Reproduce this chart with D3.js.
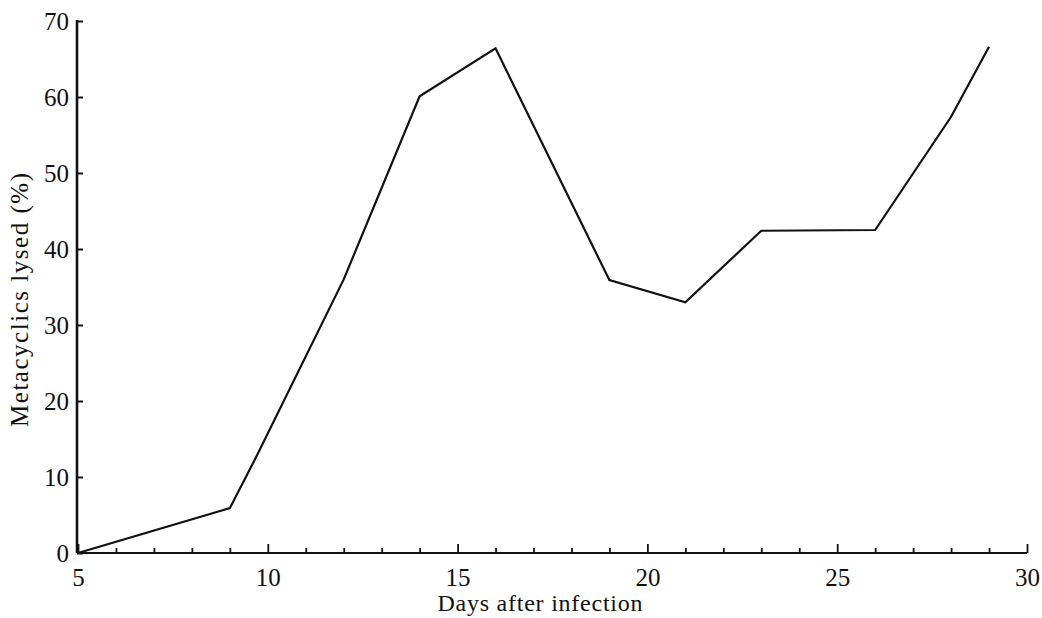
<!DOCTYPE html>
<html>
<head>
<meta charset="utf-8">
<script src="https://cdn.jsdelivr.net/npm/d3@7"></script>
<style>
  html, body { margin: 0; padding: 0; background: #fff; }
  svg { display: block; }
  text { font-family: "Liberation Serif", "Times New Roman", serif; fill: #111; }
</style>
</head>
<body>
<svg id="chart" width="1042" height="618"></svg>
<script>
// Data
const days = [5, 9, 9.7, 12, 14, 16, 19, 21, 23, 26, 28, 29];
const lysed = [0, 5.9, 12.7, 36, 60.1, 66.4, 35.9, 33, 42.4, 42.5, 57.4, 66.6];
const xTicks = [5, 10, 15, 20, 25, 30];
const xMinorTicks = d3.range(5, 31, 1);
const yTicks = [0, 10, 20, 30, 40, 50, 60, 70];
const xTitle = "Days after infection";
const yTitle = "Metacyclics lysed (%)";

const svg = d3.select("#chart");
const x = d3.scaleLinear().domain([5, 30]).range([78, 1027]);
const y = d3.scaleLinear().domain([0, 70]).range([553, 21]);

// X axis: minor ticks (inward, upward)
const xAxisMinor = d3.axisBottom(x).tickValues(xMinorTicks.filter(d => d % 5 !== 0))
  .tickSize(-5).tickFormat("");
const gxm = svg.append("g").attr("transform", `translate(0,${y(0)})`).call(xAxisMinor);
gxm.select(".domain").remove();
gxm.selectAll(".tick line").attr("stroke", "#111").attr("stroke-width", 1.8);

const xAxis = d3.axisBottom(x).tickValues(xTicks).tickSize(-9).tickPadding(15);
const gx = svg.append("g").attr("transform", `translate(0,${y(0)})`).call(xAxis);
gx.select(".domain").attr("d", `M${x(5)},0H${x(30)}`).attr("stroke", "#111").attr("stroke-width", 2);
gx.selectAll(".tick line").attr("stroke", "#111").attr("stroke-width", 1.8);
gx.selectAll(".tick text").attr("font-size", 25).attr("fill", "#111")
  .attr("font-family", "Liberation Serif, serif");

// Y axis: ticks point inward (right)
const yAxis = d3.axisLeft(y).tickValues(yTicks).tickSize(-6).tickPadding(8);
const gy = svg.append("g").attr("transform", `translate(${x(5) - 1},0)`).call(yAxis);
gy.select(".domain").attr("d", `M0,${y(0)}V${y(70) - 1}`).attr("stroke", "#111").attr("stroke-width", 2.6);
gy.selectAll(".tick line").attr("stroke", "#111").attr("stroke-width", 2);
gy.selectAll(".tick text").attr("font-size", 25).attr("fill", "#111")
  .attr("font-family", "Liberation Serif, serif").attr("dy", "0.34em");

// Line
const line = d3.line().x((d, i) => x(days[i])).y(d => y(d));
svg.append("path")
  .datum(lysed)
  .attr("d", line)
  .attr("fill", "none")
  .attr("stroke", "#111")
  .attr("stroke-width", 2.2)
  .attr("stroke-linejoin", "miter");

// Titles
svg.append("text")
  .attr("x", 540).attr("y", 611)
  .attr("text-anchor", "middle")
  .attr("font-size", 24)
  .attr("textLength", 205)
  .attr("lengthAdjust", "spacing")
  .text(xTitle);

svg.append("text")
  .attr("transform", "translate(28,300) rotate(-90)")
  .attr("text-anchor", "middle")
  .attr("font-size", 25)
  .attr("textLength", 254)
  .attr("lengthAdjust", "spacing")
  .text(yTitle);
</script>
</body>
</html>
